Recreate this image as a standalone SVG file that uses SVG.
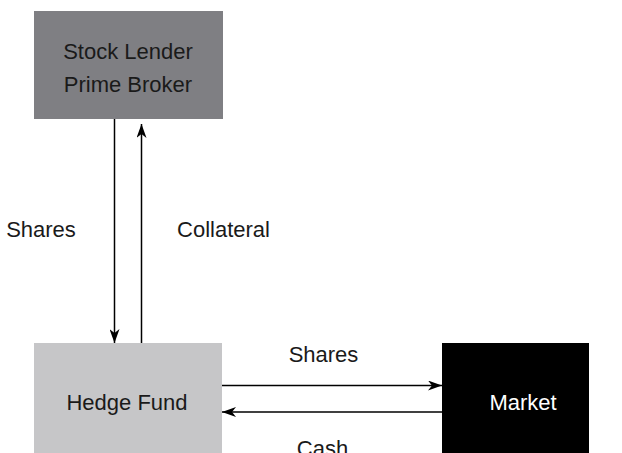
<svg xmlns="http://www.w3.org/2000/svg" width="622" height="453" viewBox="0 0 622 453">
<style>
text { font-family: "Liberation Sans", Arial, sans-serif; font-size: 22px; fill: #1a1a1a; }
.c { text-anchor: middle; }
.edge { stroke: #000; stroke-width: 1.5; fill: none; }
</style>
<defs>
<marker id="ah" viewBox="0 0 14 10" refX="14" refY="5" markerWidth="14" markerHeight="10" markerUnits="userSpaceOnUse" orient="auto">
<path d="M0,0 L14,5 L0,10 L4,5 Z" fill="#000"/>
</marker>
</defs>
<rect width="622" height="453" fill="#fff"/>
<g id="lender">
<rect x="34" y="11" width="189" height="108" fill="#7f7f83"/>
<text class="c" x="128" y="59">Stock Lender</text>
<text class="c" x="128" y="92">Prime Broker</text>
</g>
<g id="hedgefund">
<rect x="34" y="343" width="188" height="112" fill="#c6c6c8"/>
<text class="c" x="127" y="410">Hedge Fund</text>
</g>
<g id="market">
<rect x="442" y="343" width="147" height="112" fill="#000"/>
<text class="c" x="523" y="410" style="fill:#fff">Market</text>
</g>
<g id="connectors">
<line class="edge" x1="114.5" y1="119" x2="114.5" y2="343" marker-end="url(#ah)"/>
<line class="edge" x1="141.5" y1="343" x2="141.5" y2="124" marker-end="url(#ah)"/>
<line class="edge" x1="222" y1="385.5" x2="442" y2="385.5" marker-end="url(#ah)"/>
<line class="edge" x1="442" y1="412" x2="222" y2="412" marker-end="url(#ah)"/>
<text class="c" x="41" y="237">Shares</text>
<text class="c" x="223.5" y="237">Collateral</text>
<text class="c" x="323.5" y="362">Shares</text>
<text class="c" x="322.5" y="456">Cash</text>
</g>
</svg>
